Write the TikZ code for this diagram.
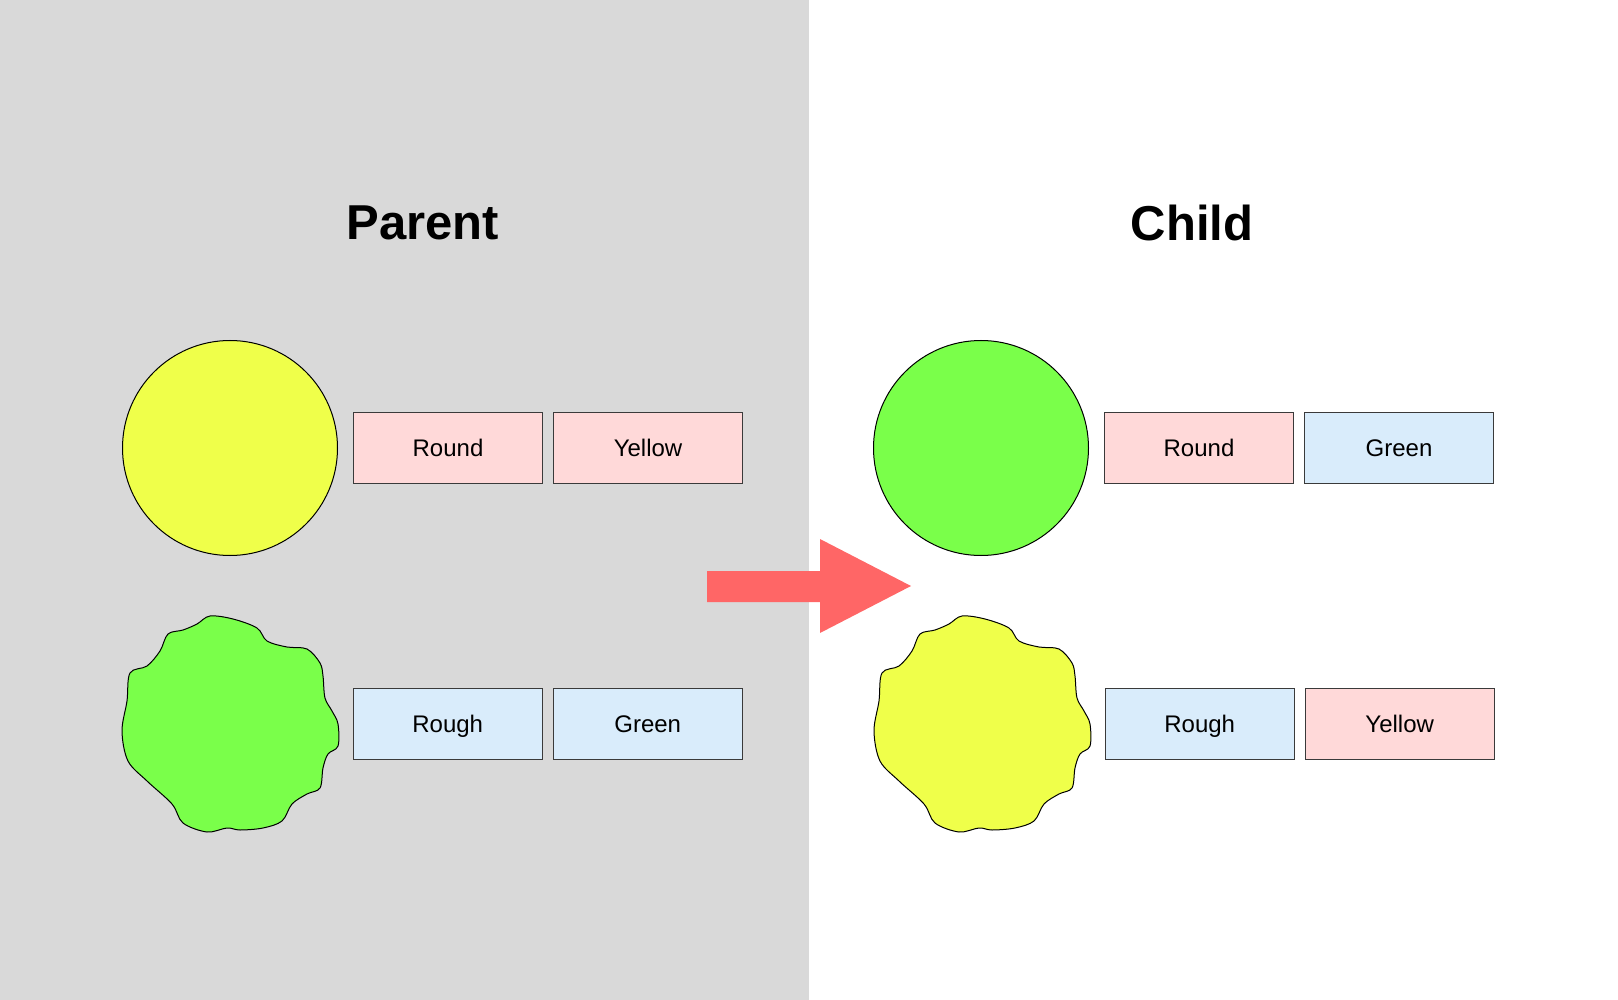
\documentclass[tikz,border=0pt]{standalone}
\usepackage{fontspec}
\setmainfont{Liberation Sans}
\usetikzlibrary{positioning}
\definecolor{panelgray}{HTML}{D9D9D9}
\definecolor{peayellow}{HTML}{EFFF4A}
\definecolor{peagreen}{HTML}{7AFF4A}
\definecolor{domfill}{HTML}{FFD9D9}
\definecolor{recfill}{HTML}{D9ECFB}
\definecolor{boxline}{HTML}{3A3A3A}
\definecolor{arrowred}{HTML}{FF6666}

% wrinkled pea outline round a named node
\newcommand{\wrinkly}[2]{%
  \filldraw[fill=#2, draw=black, line width=1pt, shift={(#1)}]
    plot[smooth cycle, tension=0.55] coordinates {
      (-20,-108) (3,-105) (27,-96) (37,-83) (57,-77) (77,-75)
      (90,-61) (93,-48) (95,-26) (102,-13) (108,0) (108,22)
      (98,30) (93,44) (90,64) (77,70) (62,80) (52,97)
      (33,104) (10,106) (-3,104) (-23,108) (-47,99) (-58,80)
      (-83,57) (-102,37) (-108,7) (-103,-23) (-100,-51) (-83,-58)
      (-70,-73) (-62,-90) (-47,-94) (-33,-100)};}

\begin{document}
\begin{tikzpicture}[
  x=1pt, y=-1pt,
  node distance=15pt and 10pt,
  title/.style={font=\bfseries\fontsize{49}{55}\selectfont},
  trait/.style={rectangle, draw=boxline, line width=1pt, minimum width=189pt, minimum height=71pt, inner sep=0pt, text height=17pt, text depth=0pt, font=\fontsize{24}{28}\selectfont},
  dom/.style={trait, fill=domfill},
  rec/.style={trait, fill=recfill},
  pea/.style={circle, draw=black, line width=1pt, minimum size=215pt, inner sep=0pt},
  ghost/.style={circle, minimum size=215pt, inner sep=0pt}
]
\useasboundingbox (0,0) rectangle (1618,1000);
\fill[panelgray] (0,0) rectangle (809,1000);

\node[title] (parent) at (423,223) {Parent};
\node[title] (child) at (1192,223) {Child};

% parent
\node[pea, fill=peayellow] (roundP) at (230,448) {};
\node[dom, right=15pt of roundP] (shapeP1) {Round};
\node[dom, right=of shapeP1] (colourP1) {Yellow};

\node[ghost] (roughP) at (230,724) {};
\wrinkly{roughP}{peagreen}
\node[rec, right=15pt of roughP] (shapeP2) {Rough};
\node[rec, right=of shapeP2] (colourP2) {Green};

% child
\node[pea, fill=peagreen] (roundC) at (981,448) {};
\node[dom, right=15pt of roundC] (shapeC1) {Round};
\node[rec, right=of shapeC1] (colourC1) {Green};

\node[ghost] (roughC) at (982,724) {};
\wrinkly{roughC}{peayellow}
\node[rec, right=15pt of roughC] (shapeC2) {Rough};
\node[dom, right=of shapeC2] (colourC2) {Yellow};

% big arrow
\fill[arrowred] (707,571) -- (820,571) -- (820,539) -- (911,586)
  -- (820,633) -- (820,602) -- (707,602) -- cycle;
\end{tikzpicture}
\end{document}
